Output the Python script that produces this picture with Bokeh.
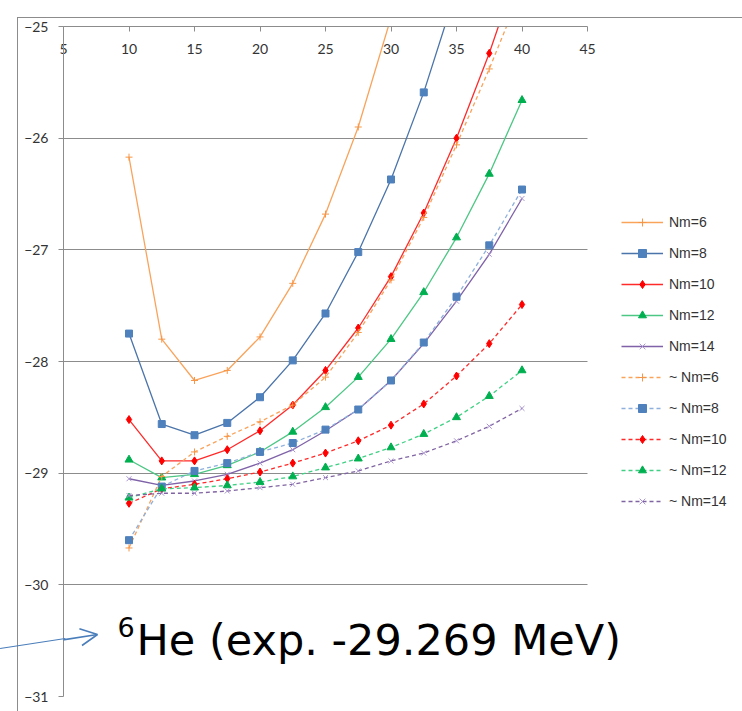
from bokeh.plotting import figure
from bokeh.models import (Range1d, Legend, LegendItem, Label, Arrow, OpenHead,
                          FixedTicker, Grid, InlineStyleSheet)
from bokeh.embed import file_html
from bokeh.resources import INLINE

# ---- data ----
hw = [10, 12.5, 15, 17.5, 20, 22.5, 25, 27.5, 30, 32.5, 35, 37.5, 40]

nm6 = [-26.17, -27.80, -28.17, -28.08, -27.78, -27.30, -26.68, -25.90, -24.92]
nm8 = [-27.75, -28.56, -28.66, -28.55, -28.32, -27.99, -27.57, -27.02, -26.37, -25.59, -24.67]
nm10 = [-28.52, -28.89, -28.89, -28.79, -28.62, -28.39, -28.08, -27.70, -27.24, -26.67, -26.00, -25.24, -24.38]
nm12 = [-28.88, -29.04, -29.01, -28.93, -28.81, -28.63, -28.41, -28.14, -27.80, -27.38, -26.89, -26.32, -25.66]
nm14 = [-29.05, -29.11, -29.07, -29.01, -28.91, -28.79, -28.62, -28.43, -28.17, -27.84, -27.46, -27.04, -26.54]

t_nm6 = [-29.67, -29.03, -28.81, -28.67, -28.54, -28.39, -28.14, -27.74, -27.27, -26.71, -26.06, -25.38, -24.66]
t_nm8 = [-29.60, -29.12, -28.98, -28.91, -28.81, -28.73, -28.61, -28.43, -28.17, -27.83, -27.42, -26.96, -26.46]
t_nm10 = [-29.27, -29.14, -29.10, -29.05, -28.99, -28.91, -28.82, -28.71, -28.57, -28.38, -28.13, -27.84, -27.49]
t_nm12 = [-29.22, -29.14, -29.13, -29.11, -29.08, -29.03, -28.95, -28.87, -28.77, -28.65, -28.50, -28.31, -28.08]
t_nm14 = [-29.20, -29.18, -29.18, -29.16, -29.13, -29.10, -29.04, -28.98, -28.89, -28.82, -28.71, -28.58, -28.42]

labels = ["Nm=6", "Nm=8", "Nm=10", "Nm=12", "Nm=14",
          "~ Nm=6", "~ Nm=8", "~ Nm=10", "~ Nm=12", "~ Nm=14"]
series = [nm6, nm8, nm10, nm12, nm14, t_nm6, t_nm8, t_nm10, t_nm12, t_nm14]

x_ticks = [5, 10, 15, 20, 25, 30, 35, 40, 45]
y_ticks = [-31, -30, -29, -28, -27, -26, -25]

annotation_sup = "6"
annotation_text = "He (exp. -29.269 MeV)"

# ---- styles ----
styles = [
    dict(lc="#F9A35B", mk="cross", mc="#F79646", ms=7, dash="solid"),
    dict(lc="#4A74AA", mk="square", mc="#4F81BD", ms=7, dash="solid"),
    dict(lc="#FF2A2A", mk="diamond", mc="#FF0000", ms=8, dash="solid"),
    dict(lc="#4CC784", mk="triangle", mc="#00B050", ms=8, dash="solid"),
    dict(lc="#7F62A8", mk="x", mc="#A995D0", ms=7, dash="solid"),
    dict(lc="#F9A35B", mk="cross", mc="#F79646", ms=7, dash="4 3"),
    dict(lc="#8EB0DC", mk="square", mc="#4F81BD", ms=7, dash="4 3"),
    dict(lc="#FF2A2A", mk="diamond", mc="#FF0000", ms=8, dash="4 3"),
    dict(lc="#3FD084", mk="triangle", mc="#00B050", ms=8, dash="4 3"),
    dict(lc="#8064A2", mk="x", mc="#A995D0", ms=7, dash="4 3"),
]

# frame spans from x=5 (px 63) to the right edge of the canvas; 13.1 px per unit
X_MIN, X_MAX = 5, 45
x_end = X_MIN + 679 * (X_MAX - X_MIN) / 524.0

p = figure(width=742, height=711, output_backend="svg", toolbar_location=None,
           x_range=Range1d(X_MIN, x_end), y_range=Range1d(-31, -25),
           x_axis_location="above",
           min_border_left=63, min_border_right=0,
           min_border_top=26, min_border_bottom=15)
p.outline_line_color = None
p.background_fill_color = "white"
p.border_fill_color = "white"

# grid
grid_col = "#8C8C8C"
p.xgrid.grid_line_color = None
p.ygrid.ticker = FixedTicker(ticks=y_ticks)
if "cross_bounds" in Grid.properties():
    p.ygrid.cross_bounds = (X_MIN, X_MAX)
    p.ygrid.grid_line_color = grid_col
else:
    p.ygrid.grid_line_color = None
    p.segment(x0=[X_MIN] * len(y_ticks), x1=[X_MAX] * len(y_ticks),
              y0=y_ticks, y1=y_ticks, line_color=grid_col, line_width=1)

# axes
axis_col = "#8C8C8C"
p.yaxis.ticker = FixedTicker(ticks=y_ticks)
p.yaxis.axis_line_color = axis_col
p.yaxis.major_tick_line_color = axis_col
p.yaxis.major_tick_out = 5
p.yaxis.major_tick_in = 0
p.yaxis.minor_tick_line_color = None
p.yaxis.major_label_standoff = 10
p.yaxis.major_label_text_font = "Lato"
p.yaxis.major_label_text_font_size = "14px"
p.yaxis.major_label_text_color = "#333333"

p.xaxis.ticker = FixedTicker(ticks=x_ticks)
p.xaxis.bounds = (X_MIN, X_MAX)
p.xaxis.axis_line_color = axis_col
p.xaxis.major_tick_line_color = axis_col
p.xaxis.major_tick_out = 0
p.xaxis.major_tick_in = 5
p.xaxis.minor_tick_line_color = None
p.xaxis.major_label_standoff = -27
p.xaxis.major_label_text_font = "Lato"
p.xaxis.major_label_text_font_size = "14px"
p.xaxis.major_label_text_color = "#333333"

items = []
for lab, ys, st in zip(labels, series, styles):
    xs = hw[:len(ys)]
    lr = p.line(xs, ys, line_color=st["lc"], line_width=1.3, line_dash=st["dash"])
    sr = p.scatter(xs, ys, marker=st["mk"], size=st["ms"],
                   fill_color=st["mc"], line_color=st["mc"], line_width=1)
    items.append(LegendItem(label=lab, renderers=[lr, sr]))

legend = Legend(items=items, location=(558, 185), padding=0, margin=0,
                spacing=11, glyph_width=42, glyph_height=20, label_height=20,
                label_standoff=6, label_text_font="Liberation Sans",
                label_text_font_size="14px", label_text_color="#333333",
                background_fill_alpha=0, border_line_color=None)
p.add_layout(legend, "center")

# arrow and annotation text
p.add_layout(Arrow(x_start=0, y_start=649, x_end=97, y_end=634,
                   start_units="canvas", end_units="canvas",
                   line_color="#4A7EBB", line_width=1.6,
                   end=OpenHead(size=17, line_color="#4A7EBB", line_width=1.6)))
p.add_layout(Label(x=117, y=626, x_units="canvas", y_units="canvas",
                   text=annotation_sup, text_font="DejaVu Sans",
                   text_font_size="27px", text_color="black",
                   text_baseline="alphabetic"))
p.add_layout(Label(x=136, y=639, x_units="canvas", y_units="canvas",
                   text=annotation_text, text_font="DejaVu Sans",
                   text_font_size="43px", text_color="black",
                   text_baseline="alphabetic"))

# outer chart-area border and the arrow tail that lies left of the plot frame
css = """
:host { position: relative; }
:host::before {
  content: ""; position: absolute; left: 17px; top: 17px; right: 0; bottom: 0;
  border-left: 1px solid #8C8C8C; border-top: 1px solid #8C8C8C;
  pointer-events: none; z-index: 5;
}
:host::after {
  content: ""; position: absolute; left: 0; top: 648px; width: 66px; height: 0;
  border-top: 1.6px solid #4A7EBB; transform-origin: 0 0;
  transform: rotate(-8.8deg); pointer-events: none; z-index: 5;
}
"""
p.stylesheets = [InlineStyleSheet(css=css)]

open("out.html", "w").write(file_html(p, INLINE))
